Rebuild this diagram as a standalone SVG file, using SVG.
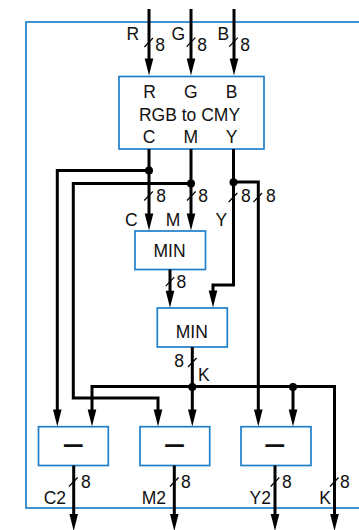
<svg xmlns="http://www.w3.org/2000/svg" xmlns:xlink="http://www.w3.org/1999/xlink" width="359" height="530" viewBox="0 0 359 530">
  <style>
    .frame { fill: none; stroke: #1f7fc9; stroke-width: 1.7; }
    .box { fill: #ffffff; stroke: #1f7fc9; stroke-width: 1.7; }
    .t { font-family: "Liberation Sans", Arial, sans-serif; font-size: 17.5px; fill: #111111; }
    .c { text-anchor: middle; }
    .e { text-anchor: end; }
    .minus { font-family: "Liberation Sans", Arial, sans-serif; font-size: 17px; fill: #111111; stroke: #111111; stroke-width: 1.7; text-anchor: middle; }
    .w { fill: none; stroke: #000000; stroke-width: 3; stroke-linejoin: miter; }
    .a { marker-end: url(#ah); }
    .sl { stroke: #000000; stroke-width: 1.2; }
    .dot { fill: #000000; }
  </style>
  <defs>
    <marker id="ah" markerUnits="userSpaceOnUse" markerWidth="18" markerHeight="10" viewBox="0 -5 18 10" refX="1" refY="0" orient="auto-start-reverse" overflow="visible">
      <path d="M0,-4.3 L17,0 L0,4.3 Z" fill="#000000"/>
    </marker>
    <line id="sl" class="sl" x1="-4.3" y1="4.5" x2="4.3" y2="-4.5"/>
  </defs>

  <rect class="frame" x="26" y="22" width="360" height="486"/>

  <g id="rgb2cmy">
    <rect class="box" x="119" y="76.5" width="145" height="72.5"/>
    <text class="t c" x="149.5" y="97.5">R</text>
    <text class="t c" x="190.8" y="97.5">G</text>
    <text class="t c" x="231.7" y="97.5">B</text>
    <text class="t c" x="189.5" y="120.5">RGB to CMY</text>
    <text class="t c" x="149" y="142.5">C</text>
    <text class="t c" x="190.7" y="142.5">M</text>
    <text class="t c" x="231.7" y="142.5">Y</text>
  </g>

  <g id="min1">
    <rect class="box" x="135" y="231" width="70.5" height="38.5"/>
    <text class="t c" x="169.5" y="257.3">MIN</text>
  </g>

  <g id="min2">
    <rect class="box" x="157.3" y="308" width="70" height="39"/>
    <text class="t c" x="191.8" y="337.7">MIN</text>
  </g>

  <g id="sub_c">
    <rect class="box" x="38.5" y="426.7" width="69.8" height="38.8"/>
    <text class="minus" x="73.3" y="450.4">—</text>
  </g>

  <g id="sub_m">
    <rect class="box" x="140" y="426.7" width="69.7" height="38.8"/>
    <text class="minus" x="174.6" y="450.4">—</text>
  </g>

  <g id="sub_y">
    <rect class="box" x="241" y="426.7" width="70" height="38.8"/>
    <text class="minus" x="274.8" y="450.4">—</text>
  </g>

  <g id="connectors">
    <!-- inputs -->
    <path class="w a" d="M149,9 V59.5"/>
    <path class="w a" d="M191,9 V59.5"/>
    <path class="w a" d="M234,9 V59.5"/>
    <!-- C, M, Y to MIN -->
    <path class="w a" d="M149,149 V214.5"/>
    <path class="w a" d="M191,149 V214.5"/>
    <path class="w a" d="M233.5,149 V285 H213 V291.5"/>
    <!-- taps to subtractors -->
    <path class="w a" d="M149,170.5 H57.3 V410.5"/>
    <path class="w a" d="M191,183.5 H73.3 V398 H158 V410.5"/>
    <path class="w a" d="M233.5,182 H258.3 V410.5"/>
    <!-- MIN chain -->
    <path class="w a" d="M170,269.5 V291.8"/>
    <path class="w a" d="M192.3,347 V410.5"/>
    <!-- K bus -->
    <path class="w" d="M92,410.5 V386.5 H334.5 V515" marker-start="url(#ah)" marker-end="url(#ah)"/>
    <path class="w a" d="M293,386.5 V410.5"/>
    <!-- outputs -->
    <path class="w a" d="M73.7,465.5 V515"/>
    <path class="w a" d="M174.3,465.5 V515"/>
    <path class="w a" d="M275,465.5 V515"/>

    <!-- junction dots -->
    <circle class="dot" cx="149" cy="170.5" r="4"/>
    <circle class="dot" cx="191" cy="183.5" r="4"/>
    <circle class="dot" cx="233.5" cy="182.3" r="4"/>
    <circle class="dot" cx="192.3" cy="387" r="4"/>
    <circle class="dot" cx="293" cy="387" r="4"/>

    <!-- bus width slashes -->
    <use xlink:href="#sl" x="148.7" y="42.5"/>
    <use xlink:href="#sl" x="191" y="42.2"/>
    <use xlink:href="#sl" x="233.5" y="42.2"/>
    <use xlink:href="#sl" x="148.5" y="196"/>
    <use xlink:href="#sl" x="191.3" y="196"/>
    <use xlink:href="#sl" x="233" y="197.5"/>
    <use xlink:href="#sl" x="257.8" y="197.5"/>
    <use xlink:href="#sl" x="170" y="281.7"/>
    <use xlink:href="#sl" x="192.3" y="362.5"/>
    <use xlink:href="#sl" x="73.3" y="482"/>
    <use xlink:href="#sl" x="174.3" y="482"/>
    <use xlink:href="#sl" x="275" y="482"/>
    <use xlink:href="#sl" x="334.3" y="482"/>

    <!-- labels -->
    <text class="t" x="126.5" y="39.5">R</text>
    <text class="t" x="171.5" y="39.5">G</text>
    <text class="t" x="217.5" y="39.5">B</text>
    <text class="t" x="155.3" y="51">8</text>
    <text class="t" x="197.3" y="51">8</text>
    <text class="t" x="240.3" y="51">8</text>

    <text class="t" x="156.3" y="202">8</text>
    <text class="t" x="198.3" y="202">8</text>
    <text class="t" x="241" y="202">8</text>
    <text class="t" x="266" y="202">8</text>
    <text class="t" x="125" y="226">C</text>
    <text class="t" x="165.8" y="226">M</text>
    <text class="t" x="215.5" y="226">Y</text>

    <text class="t" x="176.6" y="287.7">8</text>
    <text class="t" x="174.3" y="367">8</text>
    <text class="t" x="198" y="381">K</text>

    <text class="t" x="81" y="488.3">8</text>
    <text class="t" x="181" y="488.3">8</text>
    <text class="t" x="282" y="488.3">8</text>
    <text class="t" x="340" y="488.3">8</text>
    <text class="t e" x="66" y="503.5">C2</text>
    <text class="t e" x="166" y="503.5">M2</text>
    <text class="t e" x="271" y="503.5">Y2</text>
    <text class="t e" x="331" y="503.5">K</text>
  </g>
</svg>
